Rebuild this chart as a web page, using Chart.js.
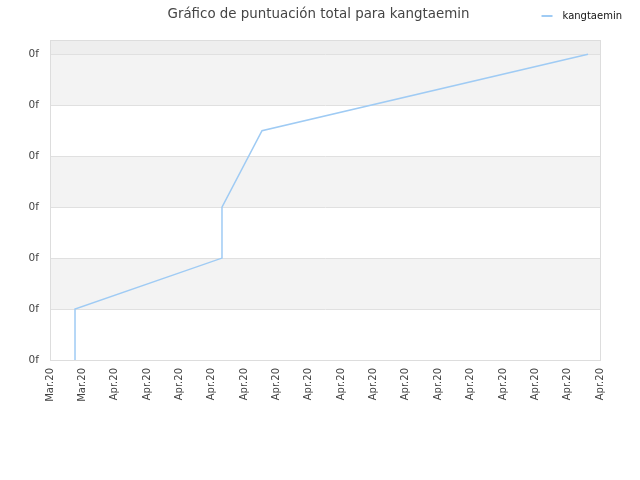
<!DOCTYPE html>
<html>
<head>
<meta charset="utf-8">
<script src="https://cdn.jsdelivr.net/npm/chart.js@4.4.1/dist/chart.umd.min.js"></script>
<style>
  html, body { margin: 0; padding: 0; background: #fff; }
  #wrap { width: 640px; height: 480px; }
</style>
</head>
<body>
<div id="wrap"><canvas id="c" width="640" height="480"></canvas></div>
<script>
const titleText = 'Gráfico de puntuación total para kangtaemin';
const seriesName = 'kangtaemin';
const xTickLabels = ['Mar.20','Mar.20','Apr.20','Apr.20','Apr.20','Apr.20','Apr.20','Apr.20','Apr.20','Apr.20','Apr.20','Apr.20','Apr.20','Apr.20','Apr.20','Apr.20','Apr.20','Apr.20'];
const yTickValues = [0, 1, 2, 3, 4, 5, 6];
const yTickLabels = ['0f','0f','0f','0f','0f','0f','0f'];
const xValues = [0.773, 0.773, 5.316, 5.316, 6.553, 16.63];
const yValues = [0, 1, 2, 3, 4.5, 6];

const FONT = 'DejaVu Sans';

const bandsPlugin = {
  id: 'bands',
  afterLayout(chart) {
    const lg = chart.legend;
    if (lg) {
      lg.left += 32; lg.right += 32;
      lg.top -= 9; lg.bottom -= 9;
    }
  },
  beforeDraw(chart) {
    const { ctx, chartArea: a, scales: { y } } = chart;
    ctx.save();
    ctx.fillStyle = '#ffffff';
    ctx.fillRect(a.left, a.top, a.right - a.left, a.bottom - a.top);
    for (let i = 0; i < yTickValues.length; i++) {
      const lo = yTickValues[i];
      const hi = i + 1 < yTickValues.length ? yTickValues[i + 1] : y.max;
      let color = null;
      if (i === yTickValues.length - 1) color = '#eeeeee';
      else if (i % 2 === 1) color = '#f3f3f3';
      if (!color) continue;
      const top = y.getPixelForValue(hi);
      const bot = y.getPixelForValue(lo);
      ctx.fillStyle = color;
      ctx.fillRect(a.left, top, a.right - a.left, bot - top);
    }
    ctx.restore();
  },
  afterDraw(chart) {
    const { ctx, chartArea: a } = chart;
    ctx.save();
    ctx.strokeStyle = '#dddddd';
    ctx.lineWidth = 1;
    ctx.strokeRect(Math.round(a.left) + 0.5, Math.round(a.top) + 0.5, Math.round(a.right - a.left), Math.round(a.bottom - a.top));
    ctx.fillStyle = '#444444';
    ctx.font = '13.4px "' + FONT + '"';
    ctx.textAlign = 'center';
    ctx.textBaseline = 'middle';
    ctx.fillText(titleText, 318.5, 14.5);
    ctx.restore();
  }
};

new Chart(document.getElementById('c'), {
  type: 'line',
  data: {
    datasets: [{
      label: seriesName,
      data: xValues.map((x, i) => ({ x: x, y: yValues[i] })),
      borderColor: '#9fcbf4',
      backgroundColor: '#9fcbf4',
      borderWidth: 1.5,
      pointRadius: 0,
      pointHoverRadius: 0,
      tension: 0,
      fill: false
    }]
  },
  plugins: [bandsPlugin],
  options: {
    responsive: false,
    animation: false,
    events: [],
    layout: { padding: { top: 10, right: 40, bottom: 0, left: 0 } },
    plugins: {
      title: { display: false },
      tooltip: { enabled: false },
      legend: {
        display: true,
        position: 'top',
        align: 'end',
        labels: {
          font: { family: FONT, size: 10 },
          color: '#111111',
          usePointStyle: true,
          pointStyle: 'line',
          pointStyleWidth: 16,
          boxHeight: 10,
          padding: 10,
          generateLabels(chart) {
            const items = Chart.defaults.plugins.legend.labels.generateLabels(chart);
            items.forEach(it => { it.lineDash = [11, 40]; it.lineWidth = 2; });
            return items;
          }
        }
      }
    },
    scales: {
      x: {
        type: 'linear',
        min: 0,
        max: 17,
        afterBuildTicks(scale) {
          scale.ticks = xTickLabels.map((_, i) => ({ value: i }));
        },
        afterFit(scale) { scale.height = 120; },
        grid: { display: false, drawTicks: false },
        border: { display: true, color: '#dddddd' },
        ticks: {
          autoSkip: false,
          minRotation: 90,
          maxRotation: 90,
          padding: 8,
          color: '#444444',
          font: { family: FONT, size: 10 },
          callback: (v, i) => xTickLabels[i]
        }
      },
      y: {
        type: 'linear',
        min: 0,
        max: 6.28,
        afterBuildTicks(scale) {
          scale.ticks = yTickValues.map(v => ({ value: v }));
        },
        afterFit(scale) { scale.width = 50; },
        grid: { color: '#e0e0e0', drawTicks: false },
        border: { display: true, color: '#dddddd' },
        ticks: {
          padding: 11,
          color: '#444444',
          font: { family: FONT, size: 10.5 },
          callback: (v, i) => yTickLabels[i]
        }
      }
    }
  }
});
</script>
</body>
</html>
